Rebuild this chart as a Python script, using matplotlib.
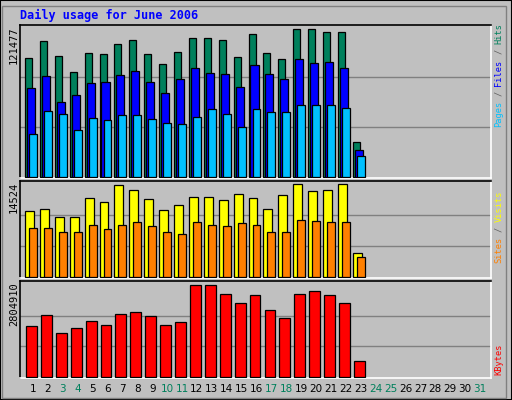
import matplotlib
matplotlib.use("Agg")
import matplotlib.pyplot as plt
import matplotlib.patches as mpatches

days = list(range(1, 24))
day_labels = [str(d) for d in range(1, 32)]
weekend_days = [3, 4, 10, 11, 17, 18, 24, 25, 31]

hits = [96390, 110160, 98010, 85050, 100440, 99630, 107730, 110970, 99630, 91530, 101250, 112590,
        112590, 110970, 97200, 115830, 100440, 95580, 119880, 119880, 117450, 117450, 28350]
files = [72090, 81810, 60750, 66420, 76140, 76950, 82620, 85860, 76950, 68040, 79380, 88290,
         84240, 83430, 72900, 90720, 83430, 79380, 95580, 92340, 93150, 88290, 21870]
pages = [34830, 53460, 51030, 38070, 47790, 46170, 50220, 50220, 46980, 43740, 42930, 48600,
         55080, 51030, 40500, 55080, 52650, 52650, 58320, 58320, 58320, 55890, 17010]
visits = [10415, 10730, 9468, 9468, 12308, 11677, 14360, 13571, 12151, 10573, 11204, 12466,
          12466, 11993, 12940, 12308, 10730, 12782, 14524, 13413, 13571, 14524, 3787]
sites = [7732, 7732, 7101, 7101, 8206, 7574, 8206, 8679, 8048, 7101, 6785, 8679,
         8206, 8048, 8521, 8206, 7101, 7101, 8995, 8837, 8679, 8679, 3156]
kbytes = [1550400, 1887000, 1336200, 1489200, 1703400, 1581000, 1917600, 1978800, 1856400, 1581000,
          1672800, 2804910, 2804910, 2529600, 2254200, 2499000, 2040000, 1795200, 2529600, 2621400,
          2499000, 2254200, 510000]

BG = "#C0C0C0"
W, H = 512, 400
mono = "DejaVu Sans Mono"
fig = plt.figure(figsize=(5.12, 4.0), dpi=100, facecolor=BG)

# outer frame
fig.patches.append(mpatches.Rectangle((0, 0), 1, 1, transform=fig.transFigure,
                                      fill=False, edgecolor="black", linewidth=1.5))
fig.patches.append(mpatches.Rectangle((2 / W, 2 / H), (W - 8) / W, (H - 8) / H, transform=fig.transFigure,
                                      fill=False, edgecolor="#808080", linewidth=1))

fig.text(20 / W, 1 - 15 / H, "Daily usage for June 2006", color="#0000FF",
         fontsize=8.5, fontweight="bold", family=mono, va="center", ha="left")


def panel(y0, y1, top):
    ax = fig.add_axes([20 / W, 1 - y1 / H, 471 / W, (y1 - y0) / H])
    ax.set_facecolor(BG)
    ax.set_xlim(0.262, 31.87)
    ax.set_ylim(-top * 0.006, top)
    ax.set_xticks([])
    ax.set_yticks([])
    for s in ["top", "left"]:
        ax.spines[s].set_color("black")
    for s in ["bottom", "right"]:
        ax.spines[s].set_color("white")
    for s in ax.spines.values():
        s.set_linewidth(1.2)
    return ax


def bars(ax, vals, off, width, color):
    ax.bar([d + off for d in days], vals, width=width, align="edge", color=color,
           edgecolor="black", linewidth=0.9, zorder=3)


def grid(ax, mx):
    for f in (1 / 3, 2 / 3):
        ax.axhline(mx * f, color="#808080", linewidth=1, zorder=1)


ax1 = panel(25, 178, 123120)
grid(ax1, 121477)
bars(ax1, hits, -0.4, 0.47, "#00805C")
bars(ax1, files, -0.27, 0.54, "#0000FF")
bars(ax1, pages, -0.13, 0.53, "#00C0FF")

ax2 = panel(180.5, 277.5, 15122)
grid(ax2, 14524)
bars(ax2, visits, -0.4, 0.6, "#FFFF00")
bars(ax2, sites, -0.13, 0.53, "#FF8000")

ax3 = panel(280.5, 378, 2927400)
grid(ax3, 2804910)
bars(ax3, kbytes, -0.33, 0.73, "#FF0000")

# max labels on the left
for txt, ytop in [("121477", 27), ("14524", 182), ("2804910", 282)]:
    fig.text(14 / W, 1 - ytop / H, txt, rotation=90, rotation_mode="anchor", ha="right",
             va="center", fontsize=7.5, family=mono, color="black")

# legends on the right, laid out char by char from the bottom upward
FS = 6.2
CW = 0.602 * FS * 100 / 72
SL = "#606060"
legends = [
    (127, [("Pages", "#00C0FF"), (" / ", SL), ("Files", "#0000FF"), (" / ", SL), ("Hits", "#00805C")]),
    (263, [("Sites", "#FF8000"), (" / ", SL), ("Visits", "#FFFF00")]),
    (375, [("KBytes", "#FF0000")]),
]
for ybot, parts in legends:
    pos = 0
    for txt, col in parts:
        yc = ybot - CW * (pos + len(txt) / 2)
        if txt.strip():
            fig.text(499 / W, 1 - yc / H, txt.strip(), rotation=90, ha="center", va="center",
                     fontsize=FS, family=mono, color=col)
        pos += len(txt)

# day labels
for i, lab in enumerate(day_labels):
    d = i + 1
    x = (31 + 14.9 * i) / W
    fig.text(x + 2 / W, 1 - 389 / H, lab, ha="center", va="center", fontsize=7.5,
             color="#00805C" if d in weekend_days else "black")

fig.savefig("out.png", dpi=100, facecolor=BG)
